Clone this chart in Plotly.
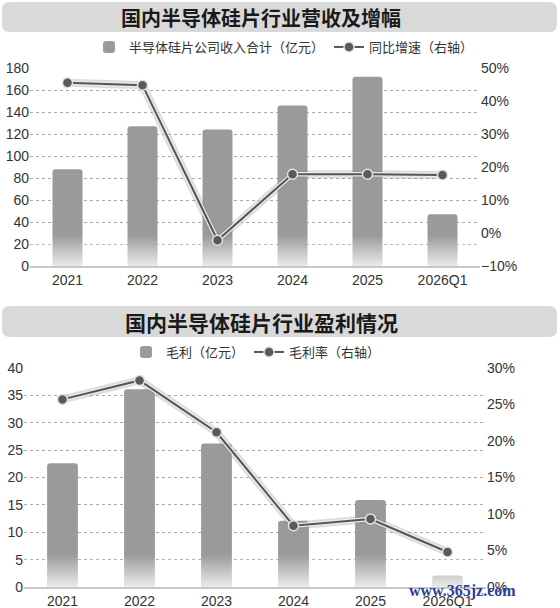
import plotly.graph_objects as go

# ---- data ----
years = ['2021', '2022', '2023', '2024', '2025', '2026Q1']
revenue = [88, 127, 124, 146, 172, 47]              # 亿元
revenue_growth = [45.5, 44.8, -2.2, 17.8, 17.8, 17.6]  # %
gross_profit = [22.6, 36.1, 26.2, 12.1, 15.9, 2.1]  # 亿元
gross_margin = [25.7, 28.3, 21.2, 8.4, 9.3, 4.8]    # %

W, H = 560, 608
xs = list(range(len(years)))

CJK = 'Noto Sans CJK SC'
NUM = 'Liberation Sans'
BAR = '#9a9a9a'
LINE = '#555555'


def px_x(p):
    return p / W


def px_y(p):
    return 1 - p / H


def rounded_rect(x0, y0, x1, y1, r):
    # pixel box -> svg path in paper coords
    X = lambda v: f'{px_x(v):.5f}'
    Y = lambda v: f'{px_y(v):.5f}'
    return (f'M {X(x0 + r)},{Y(y0)} L {X(x1 - r)},{Y(y0)} Q {X(x1)},{Y(y0)} {X(x1)},{Y(y0 + r)} '
            f'L {X(x1)},{Y(y1 - r)} Q {X(x1)},{Y(y1)} {X(x1 - r)},{Y(y1)} '
            f'L {X(x0 + r)},{Y(y1)} Q {X(x0)},{Y(y1)} {X(x0)},{Y(y1 - r)} '
            f'L {X(x0)},{Y(y0 + r)} Q {X(x0)},{Y(y0)} {X(x0 + r)},{Y(y0)} Z')


def add_panel(fig, xa, ya, ya2, legend, bar_vals, bar_name, line_vals, line_name, fade_top):
    fig.add_trace(go.Bar(
        x=xs, y=bar_vals, name=bar_name, width=0.4,
        marker=dict(color=BAR, line=dict(width=0)),
        xaxis=xa, yaxis=ya, legend=legend,
    ))
    # white fade at the foot of the bars
    fig.add_trace(go.Scatter(
        x=[-0.5, len(years) - 0.5], y=[fade_top, fade_top],
        mode='none', fill='tozeroy',
        fillgradient=dict(type='vertical', start=0, stop=fade_top,
                          colorscale=[[0, 'rgba(255,255,255,0.8)'], [1, 'rgba(255,255,255,0)']]),
        showlegend=False, hoverinfo='skip', xaxis=xa, yaxis=ya,
    ))
    # soft shadow + light halo under the line
    fig.add_trace(go.Scatter(
        x=xs, y=line_vals, mode='lines',
        line=dict(color='rgba(140,140,140,0.3)', width=8),
        showlegend=False, hoverinfo='skip', xaxis=xa, yaxis=ya2,
    ))
    fig.add_trace(go.Scatter(
        x=xs, y=line_vals, mode='lines',
        line=dict(color='#ebebeb', width=4.5),
        showlegend=False, hoverinfo='skip', xaxis=xa, yaxis=ya2,
    ))
    fig.add_trace(go.Scatter(
        x=xs, y=line_vals, name=line_name, mode='lines+markers',
        line=dict(color=LINE, width=2),
        marker=dict(color='#5a5a5a', size=10, line=dict(color='#e2e2e2', width=1.5)),
        xaxis=xa, yaxis=ya2, legend=legend,
    ))


fig = go.Figure()
add_panel(fig, 'x', 'y', 'y2', 'legend', revenue, '半导体硅片公司收入合计（亿元）',
          revenue_growth, '同比增速（右轴）', 28)
add_panel(fig, 'x2', 'y3', 'y4', 'legend2', gross_profit, '毛利（亿元）',
          gross_margin, '毛利率（右轴）', 6)

tick_font = dict(family=NUM, size=14, color='#333333')
xcommon = dict(range=[-0.5, len(years) - 0.5], tickvals=xs, ticktext=years,
               showgrid=False, zeroline=False, showline=True, linecolor='#c8c8c8',
               linewidth=1.5, ticks='', tickfont=tick_font, automargin=False)
ycommon = dict(showgrid=True, gridcolor='#a8a8a8', griddash='dot', gridwidth=1,
               zeroline=False, showline=False, ticks='', tickfont=tick_font, automargin=False)
y2common = dict(side='right', showgrid=False, zeroline=False, ticks='', ticksuffix='%',
                tickfont=tick_font, automargin=False)

legend_common = dict(orientation='h', xanchor='center', yanchor='middle',
                     font=dict(family=CJK, size=13, color='#333333'),
                     itemwidth=30, bgcolor='rgba(0,0,0,0)', traceorder='normal')

fig.update_layout(
    width=W, height=H,
    margin=dict(l=0, r=0, t=0, b=0, autoexpand=False),
    paper_bgcolor='white', plot_bgcolor='white',
    barcornerradius=3,
    showlegend=True,
    xaxis=dict(domain=[px_x(30), px_x(480)], anchor='y', **xcommon),
    yaxis=dict(domain=[px_y(266), px_y(68)], range=[0, 180], dtick=20, **ycommon),
    yaxis2=dict(overlaying='y', anchor='x', range=[-10, 50], dtick=10, **y2common),
    xaxis2=dict(domain=[px_x(24), px_x(486)], anchor='y3', **xcommon),
    yaxis3=dict(domain=[px_y(587), px_y(368)], range=[0, 40], dtick=5, anchor='x2', **ycommon),
    yaxis4=dict(overlaying='y3', anchor='x2', range=[0, 30], dtick=5, **y2common),
    legend=dict(x=px_x(284), y=px_y(47), **legend_common),
    legend2=dict(x=px_x(256), y=px_y(352), **legend_common),
    shapes=[
        dict(type='path', xref='paper', yref='paper', path=rounded_rect(2, 2, 557, 32, 8),
             fillcolor='#d9d9d9', line=dict(width=0), layer='below'),
        dict(type='path', xref='paper', yref='paper', path=rounded_rect(2, 306, 557, 337, 8),
             fillcolor='#d9d9d9', line=dict(width=0), layer='below'),
    ],
    annotations=[
        dict(text='<b>国内半导体硅片行业营收及增幅</b>', xref='paper', yref='paper',
             x=px_x(261), y=px_y(17), showarrow=False, xanchor='center', yanchor='middle',
             font=dict(family=CJK, size=20, color='#1a1a1a')),
        dict(text='<b>国内半导体硅片行业盈利情况</b>', xref='paper', yref='paper',
             x=px_x(261), y=px_y(322), showarrow=False, xanchor='center', yanchor='middle',
             font=dict(family=CJK, size=21, color='#1a1a1a')),
        dict(text='<b>www.365jz.com</b>', xref='paper', yref='paper',
             x=px_x(462), y=px_y(591), showarrow=False, xanchor='center', yanchor='middle',
             font=dict(family='Liberation Serif', size=16, color='#2b3f99')),
    ],
)

# drop the browser's default 8px body margin so the figure sits at the page corner
fig.write_html('out.html', config={'displayModeBar': False},
               post_script="document.body.style.margin='0';")
